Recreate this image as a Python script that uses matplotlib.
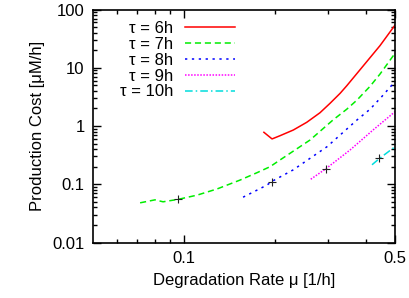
import matplotlib
matplotlib.use('Agg')
import matplotlib.pyplot as plt
from matplotlib.ticker import FixedLocator, NullFormatter, LogLocator

plt.rcParams['font.family'] = ['Liberation Sans', 'DejaVu Sans']
plt.rcParams['font.size'] = 12

# curves
mu_6 = [0.184, 0.1958, 0.208, 0.2302, 0.2551, 0.2822, 0.3046, 0.329, 0.346,
        0.3926, 0.446, 0.5]
cost_6 = [0.78, 0.60, 0.681, 0.853, 1.158, 1.69, 2.45, 3.64, 4.9,
          10.8, 24.0, 54]

mu_7 = [0.0716, 0.0802, 0.0853, 0.0956, 0.1105, 0.1287, 0.1534, 0.1746, 0.1928,
        0.208, 0.2616, 0.3117, 0.346, 0.3742, 0.4133, 0.446, 0.5]
cost_7 = [0.048, 0.054, 0.050, 0.055, 0.065, 0.083, 0.118, 0.158, 0.200,
          0.261, 0.575, 1.27, 1.94, 2.79, 4.8, 7.8, 17.7]

mu_8 = [0.157, 0.1885, 0.1953, 0.2298, 0.2977, 0.3742, 0.4133, 0.4516, 0.5]
cost_8 = [0.060, 0.097, 0.1115, 0.176, 0.441, 1.27, 1.94, 3.18, 5.8]

mu_9 = [0.263, 0.2944, 0.3548, 0.4228, 0.5]
cost_9 = [0.122, 0.183, 0.387, 0.853, 1.76]

mu_10 = [0.4196, 0.444, 0.5]
cost_10 = [0.216, 0.277, 0.441]

# black "+" optimum markers
opt_mu = [0.0956, 0.1953, 0.2944, 0.444]
opt_cost = [0.055, 0.1115, 0.183, 0.277]

labels = ['τ = 6h', 'τ = 7h', 'τ = 8h', 'τ = 9h', 'τ = 10h']

fig = plt.figure(figsize=(4.09, 2.98), dpi=100)
ax = fig.add_axes([0.2274, 0.1862, 0.7384, 0.7819])

lw = 1.1
ax.plot(mu_6, cost_6, color='#ff0000', lw=lw, label=labels[0])
ax.plot(mu_7, cost_7, color='#00ee00', lw=lw, dashes=(4, 2.5), label=labels[1])
ax.plot(mu_8, cost_8, color='#0000ff', lw=lw, dashes=(1.5, 3), label=labels[2])
ax.plot(mu_9, cost_9, color='#ff00ff', lw=lw, dashes=(1, 1), label=labels[3])
ax.plot(mu_10, cost_10, color='#00dddd', lw=lw, dashes=(5, 2, 1, 2), label=labels[4])
ax.plot(opt_mu, opt_cost, ls='none', marker='+', color='#222222', ms=6, mew=0.8)

ax.set_xscale('log')
ax.set_yscale('log')
ax.set_xlim(0.05, 0.5)
ax.set_ylim(0.01, 100)

ax.xaxis.set_major_locator(FixedLocator([0.1, 0.5]))
ax.xaxis.set_minor_locator(FixedLocator([0.06, 0.07, 0.08, 0.09, 0.2, 0.3, 0.4]))
ax.xaxis.set_minor_formatter(NullFormatter())
ax.set_xticklabels(['0.1', '0.5'])
ax.yaxis.set_major_locator(FixedLocator([0.01, 0.1, 1, 10, 100]))
ax.yaxis.set_minor_locator(LogLocator(base=10, subs=range(2, 10)))
ax.yaxis.set_minor_formatter(NullFormatter())
ax.set_yticklabels(['0.01', '0.1', '1', '10', '100'])

ax.tick_params(which='both', direction='in', top=True, right=True, width=1.0)
ax.tick_params(which='major', length=6, pad=6)
ax.tick_params(which='minor', length=3)
for s in ax.spines.values():
    s.set_linewidth(1.2)

ax.set_xlabel('Degradation Rate μ [1/h]', labelpad=5)
ax.set_ylabel('Production Cost [μM/h]', labelpad=5)

ax.legend(loc='upper right', bbox_to_anchor=(0.47, 0.95), frameon=False,
          markerfirst=False, borderpad=0, handlelength=3.0, handletextpad=0.7,
          labelspacing=0.05, borderaxespad=0)

fig.savefig('out.png', dpi=100)
